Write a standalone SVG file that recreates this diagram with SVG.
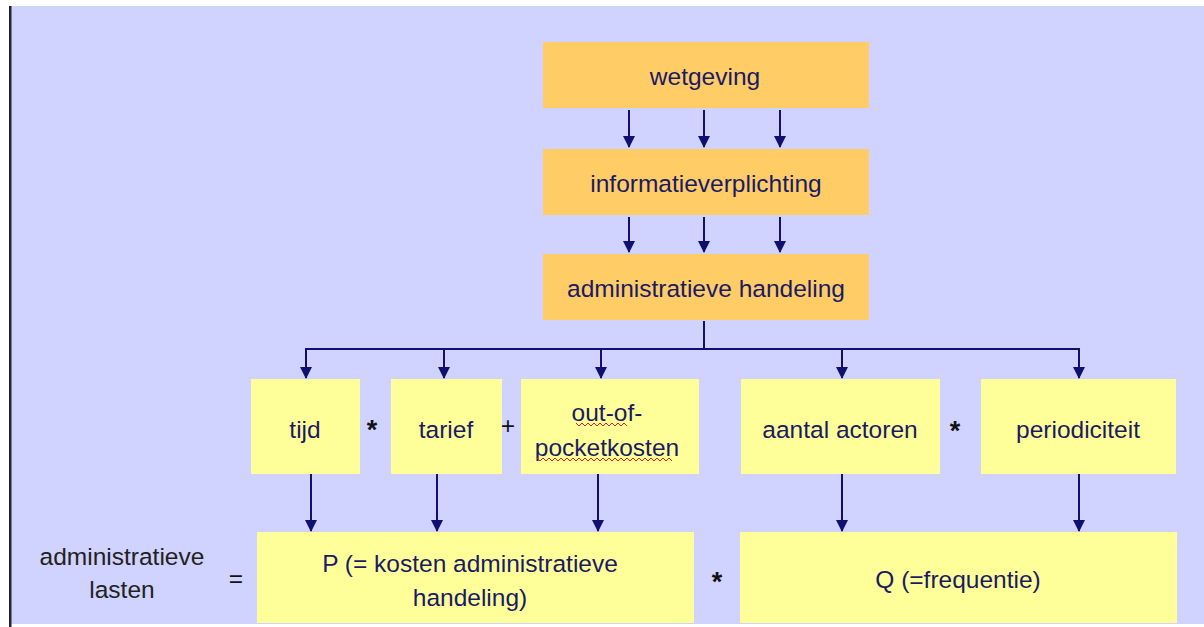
<svg xmlns="http://www.w3.org/2000/svg" width="1204" height="627" viewBox="0 0 1204 627">
<style>
.bg{fill:#D0D2FF}
.o{fill:#FFCC66}
.y{fill:#FFFF99}
.t{font-family:"Liberation Sans",Arial,sans-serif;font-size:24.5px;fill:#1A1A66;text-anchor:middle;dominant-baseline:central}
.k{font-family:"Liberation Sans",Arial,sans-serif;font-size:24.5px;fill:#111111;text-anchor:middle;dominant-baseline:central}
.s{font-size:27px;font-weight:bold}
.c{stroke:#101070;stroke-width:2;fill:none}
.sq{stroke:#E02020;stroke-width:1;fill:none}
</style>
<defs>
<marker id="a" markerWidth="12" markerHeight="12" refX="11" refY="6" orient="auto" markerUnits="userSpaceOnUse" viewBox="0 0 12 12">
<path d="M0,0 L12,6 L0,12 Z" fill="#101070"/>
</marker>
</defs>
<rect x="0" y="0" width="1204" height="627" fill="#FFFFFF"/>
<rect class="bg" x="9" y="6" width="1195" height="618"/>
<rect x="9" y="6" width="2.5" height="621" fill="#222233"/>

<g id="connectors">
<line class="c" x1="629" y1="110" x2="629" y2="147" marker-end="url(#a)"/>
<line class="c" x1="704" y1="110" x2="704" y2="147" marker-end="url(#a)"/>
<line class="c" x1="780" y1="110" x2="780" y2="147" marker-end="url(#a)"/>
<line class="c" x1="629" y1="217" x2="629" y2="252" marker-end="url(#a)"/>
<line class="c" x1="704" y1="217" x2="704" y2="252" marker-end="url(#a)"/>
<line class="c" x1="780" y1="217" x2="780" y2="252" marker-end="url(#a)"/>
<path class="c" d="M704,321 V349 M306,349 H1079"/>
<line class="c" x1="306" y1="348" x2="306" y2="378" marker-end="url(#a)"/>
<line class="c" x1="444" y1="348" x2="444" y2="378" marker-end="url(#a)"/>
<line class="c" x1="601" y1="348" x2="601" y2="378" marker-end="url(#a)"/>
<line class="c" x1="842" y1="348" x2="842" y2="378" marker-end="url(#a)"/>
<line class="c" x1="1079" y1="348" x2="1079" y2="378" marker-end="url(#a)"/>
<line class="c" x1="311" y1="474" x2="311" y2="531" marker-end="url(#a)"/>
<line class="c" x1="437" y1="474" x2="437" y2="531" marker-end="url(#a)"/>
<line class="c" x1="598" y1="474" x2="598" y2="531" marker-end="url(#a)"/>
<line class="c" x1="842" y1="474" x2="842" y2="531" marker-end="url(#a)"/>
<line class="c" x1="1079" y1="474" x2="1079" y2="531" marker-end="url(#a)"/>
</g>

<g id="wetgeving"><rect class="o" x="543" y="42" width="326" height="66"/><text class="t" x="705" y="76">wetgeving</text></g>
<g id="informatieverplichting"><rect class="o" x="543" y="149" width="326" height="66"/><text class="t" x="706" y="183">informatieverplichting</text></g>
<g id="administratieve-handeling"><rect class="o" x="543" y="254" width="326" height="66"/><text class="t" x="706" y="288">administratieve handeling</text></g>

<g id="tijd"><rect class="y" x="251" y="379" width="109" height="95"/><text class="t" x="305" y="429">tijd</text></g>
<g id="tarief"><rect class="y" x="391" y="379" width="111" height="95"/><text class="t" x="446" y="429">tarief</text></g>
<g id="out-of-pocketkosten"><rect class="y" x="521" y="379" width="178" height="95"/>
<text class="t" x="607" y="412">out-of-</text><text class="t" x="607" y="447">pocketkosten</text>
<path class="sq" d="M576,423 l3,3 l3,-3 l3,3 l3,-3 l3,3 l3,-3 l3,3 l3,-3 l3,3 l3,-3 l3,3 l3,-3 l3,3 l3,-3 l3,3 l3,-3 l3,3"/>
<path class="sq" d="M537,458 l3,3 l3,-3 l3,3 l3,-3 l3,3 l3,-3 l3,3 l3,-3 l3,3 l3,-3 l3,3 l3,-3 l3,3 l3,-3 l3,3 l3,-3 l3,3 l3,-3 l3,3 l3,-3 l3,3 l3,-3 l3,3 l3,-3 l3,3 l3,-3 l3,3 l3,-3 l3,3 l3,-3 l3,3 l3,-3 l3,3 l3,-3 l3,3 l3,-3 l3,3 l3,-3 l3,3 l3,-3 l3,3 l3,-3 l3,3 l3,-3 l3,3"/>
</g>
<g id="aantal-actoren"><rect class="y" x="741" y="379" width="199" height="95"/><text class="t" x="840" y="429">aantal actoren</text></g>
<g id="periodiciteit"><rect class="y" x="981" y="379" width="195" height="95"/><text class="t" x="1078" y="429">periodiciteit</text></g>

<g id="P"><rect class="y" x="257" y="532" width="437" height="91"/><text class="t" x="470" y="563">P (= kosten administratieve</text><text class="t" x="470" y="597">handeling)</text></g>
<g id="Q"><rect class="y" x="740" y="532" width="437" height="91"/><text class="t" x="958" y="579">Q (=frequentie)</text></g>

<g id="operators">
<text class="k s" x="372" y="430">*</text>
<text class="k" x="508" y="425">+</text>
<text class="k s" x="955" y="431">*</text>
<text class="k s" x="717" y="582">*</text>
<text class="k" x="236" y="578">=</text>
</g>
<g id="label">
<text class="k" x="122" y="556" style="fill:#222222">administratieve</text>
<text class="k" x="122" y="589" style="fill:#222222">lasten</text>
</g>
</svg>
